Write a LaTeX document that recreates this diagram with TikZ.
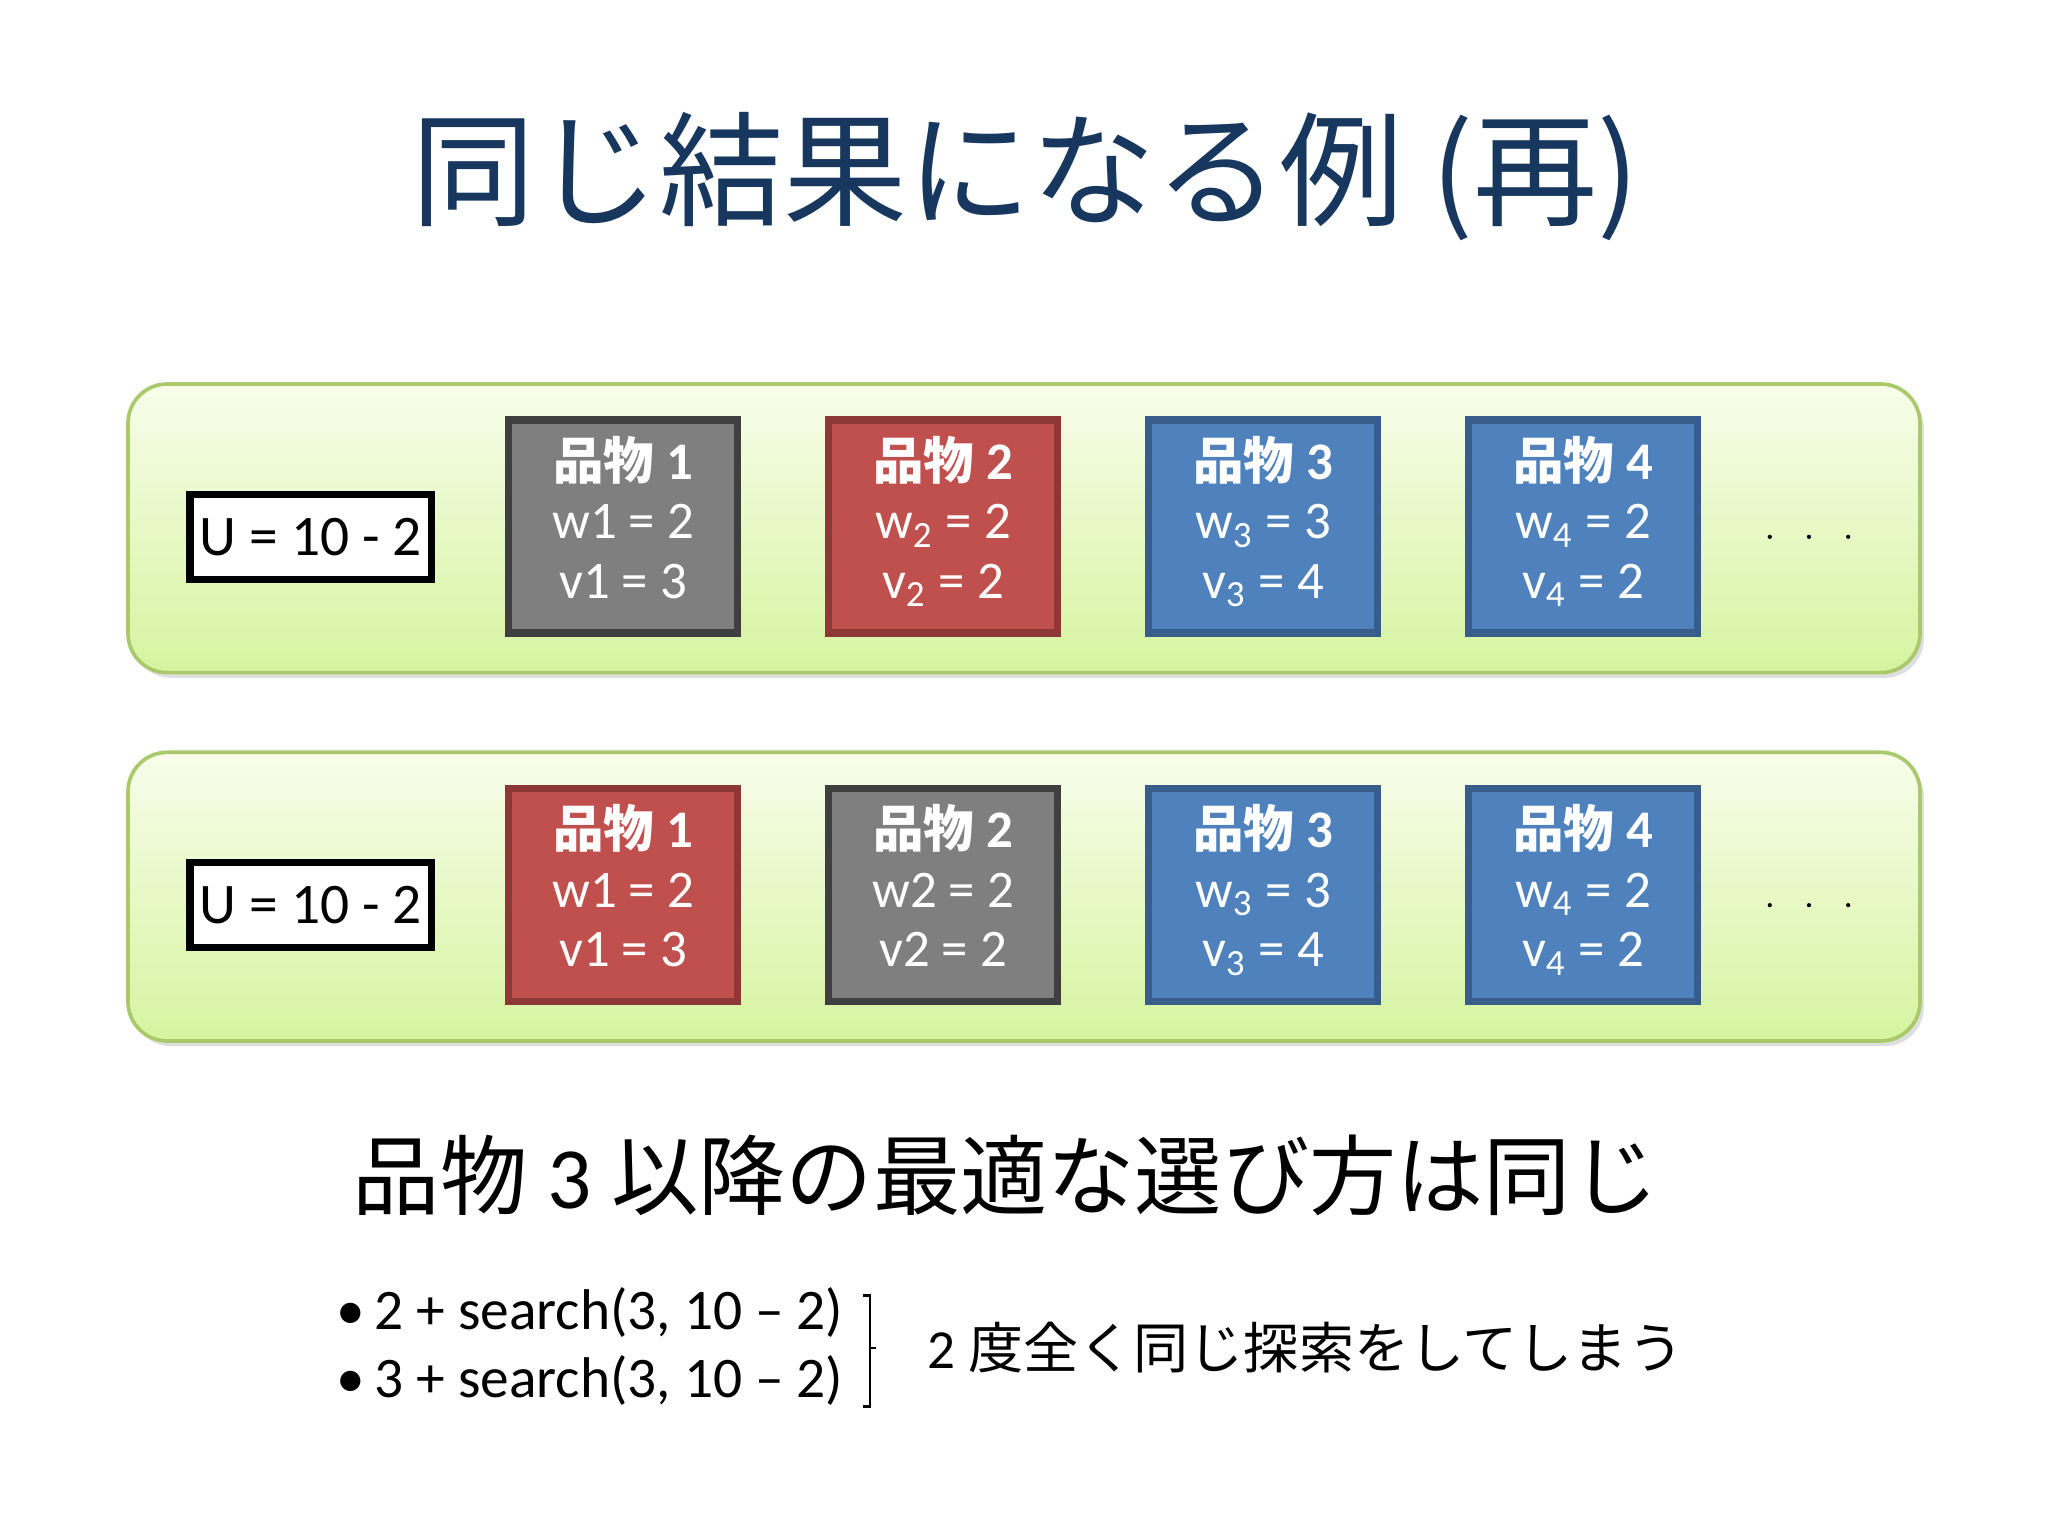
\documentclass[tikz,border=0pt]{standalone}
\usepackage{fontspec}
\setmainfont{Carlito}
\newfontfamily\jp{Noto Sans CJK JP}
\usetikzlibrary{shadows,decorations.pathreplacing}
\definecolor{titleblue}{HTML}{17375E}
\definecolor{gfill}{HTML}{7F7F7F}\definecolor{gdraw}{HTML}{3F3F3F}
\definecolor{rfill}{HTML}{C0504D}\definecolor{rdraw}{HTML}{8C3836}
\definecolor{bfill}{HTML}{4F81BD}\definecolor{bdraw}{HTML}{385D8A}
\definecolor{bandtop}{HTML}{F8FDEB}\definecolor{bandbot}{HTML}{D6F4A0}
\definecolor{bandline}{HTML}{A9C96A}
\tikzset{
 band/.style={draw=bandline,line width=0.8pt,rounded corners=0.3cm,top color=bandtop,bottom color=bandbot,drop shadow={opacity=0.25,shadow xshift=0.03cm,shadow yshift=-0.04cm}},
 ubox/.style={draw=black,line width=1.6pt,fill=white,minimum width=1.85cm,minimum height=0.65cm,inner sep=0pt,font=\fontsize{12.5}{15}\selectfont},
 item/.style={line width=1.6pt,minimum width=1.75cm,minimum height=1.63cm,inner sep=0pt,text=white,align=center,font=\fontsize{11.5}{13.5}\selectfont},
 gitem/.style={item,fill=gfill,draw=gdraw},
 ritem/.style={item,fill=rfill,draw=rdraw},
 bitem/.style={item,fill=bfill,draw=bdraw},
}
\newcommand{\itm}[3]{\begin{tabular}{@{}c@{}}\rule{0pt}{0pt}\bfseries{\jp\fontsize{11}{13}\selectfont 品物}~#1\\[-0.5pt]#2\\[-0.5pt]#3\end{tabular}}
\begin{document}
\begin{tikzpicture}[x=0.01cm,y=-0.01cm]
\useasboundingbox (0,0) rectangle (1568,1176);
\fill[white] (0,0) rectangle (1568,1176);
\node[text=titleblue,font=\jp\fontsize{27}{30}\selectfont] (title) at (785,135) {同じ結果になる例 (再)};
% bands
\foreach \y/\n in {294/a,576/b}{
 \path[band] (98,\y) rectangle (1470,\y+221);
}
\node[ubox] (u1) at (238,411) {U = 10 - 2};
\node[ubox] (u2) at (238,693) {U = 10 - 2};
\node[gitem] (a1) at (477,403) {\itm{1}{w1 = 2}{v1 = 3}};
\node[ritem] (a2) at (722,403) {\itm{2}{w\textsubscript{2} = 2}{v\textsubscript{2} = 2}};
\node[bitem] (a3) at (967,403) {\itm{3}{w\textsubscript{3} = 3}{v\textsubscript{3} = 4}};
\node[bitem] (a4) at (1212,403) {\itm{4}{w\textsubscript{4} = 2}{v\textsubscript{4} = 2}};
\node[ritem] (b1) at (477,685) {\itm{1}{w1 = 2}{v1 = 3}};
\node[gitem] (b2) at (722,685) {\itm{2}{w2 = 2}{v2 = 2}};
\node[bitem] (b3) at (967,685) {\itm{3}{w\textsubscript{3} = 3}{v\textsubscript{3} = 4}};
\node[bitem] (b4) at (1212,685) {\itm{4}{w\textsubscript{4} = 2}{v\textsubscript{4} = 2}};
\foreach \x in {1355,1385,1415}{\fill (\x,411) circle (1.6); \fill (\x,693) circle (1.6);}
\node[font=\fontsize{19}{22}\selectfont] (concl) at (770,900) {{\jp 品物} 3 {\jp 以降の最適な選び方は同じ}};
\node[anchor=west,font=\fontsize{12.5}{15}\selectfont] (l1) at (245,1005) {\textbullet\,2 + search(3, 10 -- 2)};
\node[anchor=west,font=\fontsize{12.5}{15}\selectfont] (l2) at (245,1057) {\textbullet\,3 + search(3, 10 -- 2)};
\draw[line width=0.6pt] (661,992) -- (666,992) -- (666,1032) -- (671,1032) (666,1032) -- (666,1077) -- (661,1077);
\node[anchor=west,font=\fontsize{12}{14}\selectfont] (note) at (698,1032) {2 {\jp 度全く同じ探索をしてしまう}};
\end{tikzpicture}
\end{document}
